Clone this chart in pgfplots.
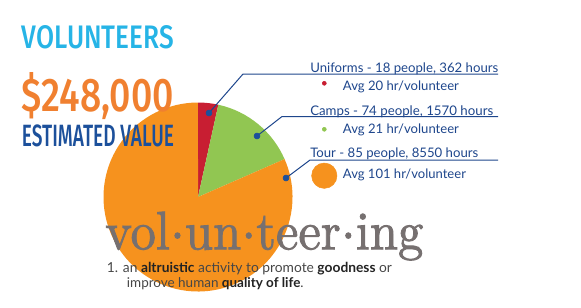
\documentclass[border=0pt]{standalone}
\usepackage{pgfplots}
\pgfplotsset{compat=1.18}
\usepackage{pgfplotstable}
\usepackage{graphicx}
\usepackage{fontspec}
\newfontfamily\headfont{Fira Sans Medium}
\newfontfamily\bodyfont{Lato}
\newfontfamily\wordfont[FakeBold=1.6]{Latin Modern Roman}
% syllable dot for the dictionary headword
\newcommand\syl{\kern0.01em\raisebox{0.2em}{.}\kern0.01em}

\definecolor{pieRed}{RGB}{200,30,50}
\definecolor{pieGreen}{RGB}{145,198,82}
\definecolor{pieOrange}{RGB}{246,146,30}
\definecolor{skyBlue}{RGB}{38,180,230}
\definecolor{titleOrange}{RGB}{240,128,48}
\definecolor{navy}{RGB}{28,80,155}
\definecolor{legendNavy}{RGB}{30,70,140}
\definecolor{wordGray}{RGB}{118,112,112}
\definecolor{defGray}{RGB}{70,70,70}
\definecolor{defDark}{RGB}{35,35,35}

% volunteer hours per programme
\pgfplotstableread{
slice hours people
Uniforms 362 18
Camps 1570 74
Tour 8550 85
}\hourstable
\pgfplotstablegetelem{0}{hours}\of\hourstable\edef\hU{\pgfplotsretval}
\pgfplotstablegetelem{1}{hours}\of\hourstable\edef\hC{\pgfplotsretval}
\pgfplotstablegetelem{2}{hours}\of\hourstable\edef\hT{\pgfplotsretval}
\pgfmathsetmacro\total{\hU+\hC+\hT}
% slice boundaries, clockwise from twelve o'clock
\pgfmathsetmacro\aU{90-(\hU/\total)*360}
\pgfmathsetmacro\aC{\aU-(\hC/\total)*360}
\pgfmathsetmacro\aT{\aC-(\hT/\total)*360}
\def\pieR{70.875pt}

\begin{document}
\begin{tikzpicture}
\begin{axis}[
  at={(0,0)}, anchor=south west,
  x=0.75pt, y=0.75pt, y dir=reverse,
  xmin=0, xmax=581, ymin=0, ymax=307,
  hide axis, clip=false,
]
\path (axis cs:0,0) rectangle (axis cs:581,307);

% pie
\fill[pieRed] (axis cs:198,197) -- ++(90:\pieR) arc[start angle=90, end angle=\aU, radius=\pieR] -- cycle;
\fill[pieGreen] (axis cs:198,197) -- ++(\aU:\pieR) arc[start angle=\aU, end angle=\aC, radius=\pieR] -- cycle;
\fill[pieOrange] (axis cs:198,197) -- ++(\aC:\pieR) arc[start angle=\aC, end angle=\aT, radius=\pieR] -- cycle;

% leader lines
\addplot[legendNavy, line width=0.75pt] coordinates {(209,113) (243,74) (498,74)};
\addplot[legendNavy, line width=0.75pt] coordinates {(257,136) (282,116.5) (498,116.5)};
\addplot[legendNavy, line width=0.75pt] coordinates {(286,178) (310,160) (498,160)};
\addplot[only marks, mark=*, mark size=2.25pt, color=navy] coordinates {(209,113) (257,136) (286,178)};

% average-hours markers
\addplot[only marks, mark=*, mark size=1.5pt, color=pieRed] coordinates {(324.3,83.3)};
\addplot[only marks, mark=*, mark size=1.5pt, color=pieGreen] coordinates {(324.3,129.3)};
\addplot[only marks, mark=*, mark size=9.5pt, color=pieOrange] coordinates {(324.3,175.7)};

% headline
\node[anchor=base west, inner sep=0, text=skyBlue] at (axis cs:21.7,48.3)
  {\resizebox{114pt}{17.25pt}{\headfont VOLUNTEERS}};
\node[anchor=base west, inner sep=0, text=titleOrange] at (axis cs:21.7,111.7)
  {\resizebox{114pt}{29.25pt}{\headfont \$248,000}};
\node[anchor=base west, inner sep=0, text=navy] at (axis cs:21.7,146.7)
  {\resizebox{114pt}{16.3pt}{\headfont ESTIMATED VALUE}};

% legend text
\node[anchor=base west, inner sep=0, text=legendNavy] at (axis cs:310,72.7)
  {\resizebox{141pt}{!}{\bodyfont Uniforms - 18 people, 362 hours}};
\node[anchor=base west, inner sep=0, text=legendNavy] at (axis cs:342.7,90)
  {\resizebox{87pt}{!}{\bodyfont Avg 20 hr/volunteer}};
\node[anchor=base west, inner sep=0, text=legendNavy] at (axis cs:310,115)
  {\resizebox{137.25pt}{!}{\bodyfont Camps - 74 people, 1570 hours}};
\node[anchor=base west, inner sep=0, text=legendNavy] at (axis cs:342.7,133.3)
  {\resizebox{87pt}{!}{\bodyfont Avg 21 hr/volunteer}};
\node[anchor=base west, inner sep=0, text=legendNavy] at (axis cs:310,157.3)
  {\resizebox{126pt}{!}{\bodyfont Tour - 85 people, 8550 hours}};
\node[anchor=base west, inner sep=0, text=legendNavy] at (axis cs:342.7,178.3)
  {\resizebox{92.25pt}{!}{\bodyfont Avg 101 hr/volunteer}};

% dictionary entry
\node[anchor=base west, inner sep=0, text=wordGray] at (axis cs:105,249.3)
  {\resizebox{238.5pt}{28.2pt}{\wordfont vol\syl un\syl teer\syl ing}};
\node[anchor=base west, inner sep=0, text=defGray] at (axis cs:106.7,272.7)
  {\resizebox{213.75pt}{!}{\bodyfont 1. an \textcolor{defDark}{\bfseries altruistic} activity to promote \textcolor{defDark}{\bfseries goodness} or}};
\node[anchor=base west, inner sep=0, text=defGray] at (axis cs:126.7,287.3)
  {\resizebox{132.5pt}{!}{\bodyfont improve human \textcolor{defDark}{\bfseries quality of life}.}};
\end{axis}
\end{tikzpicture}
\end{document}
